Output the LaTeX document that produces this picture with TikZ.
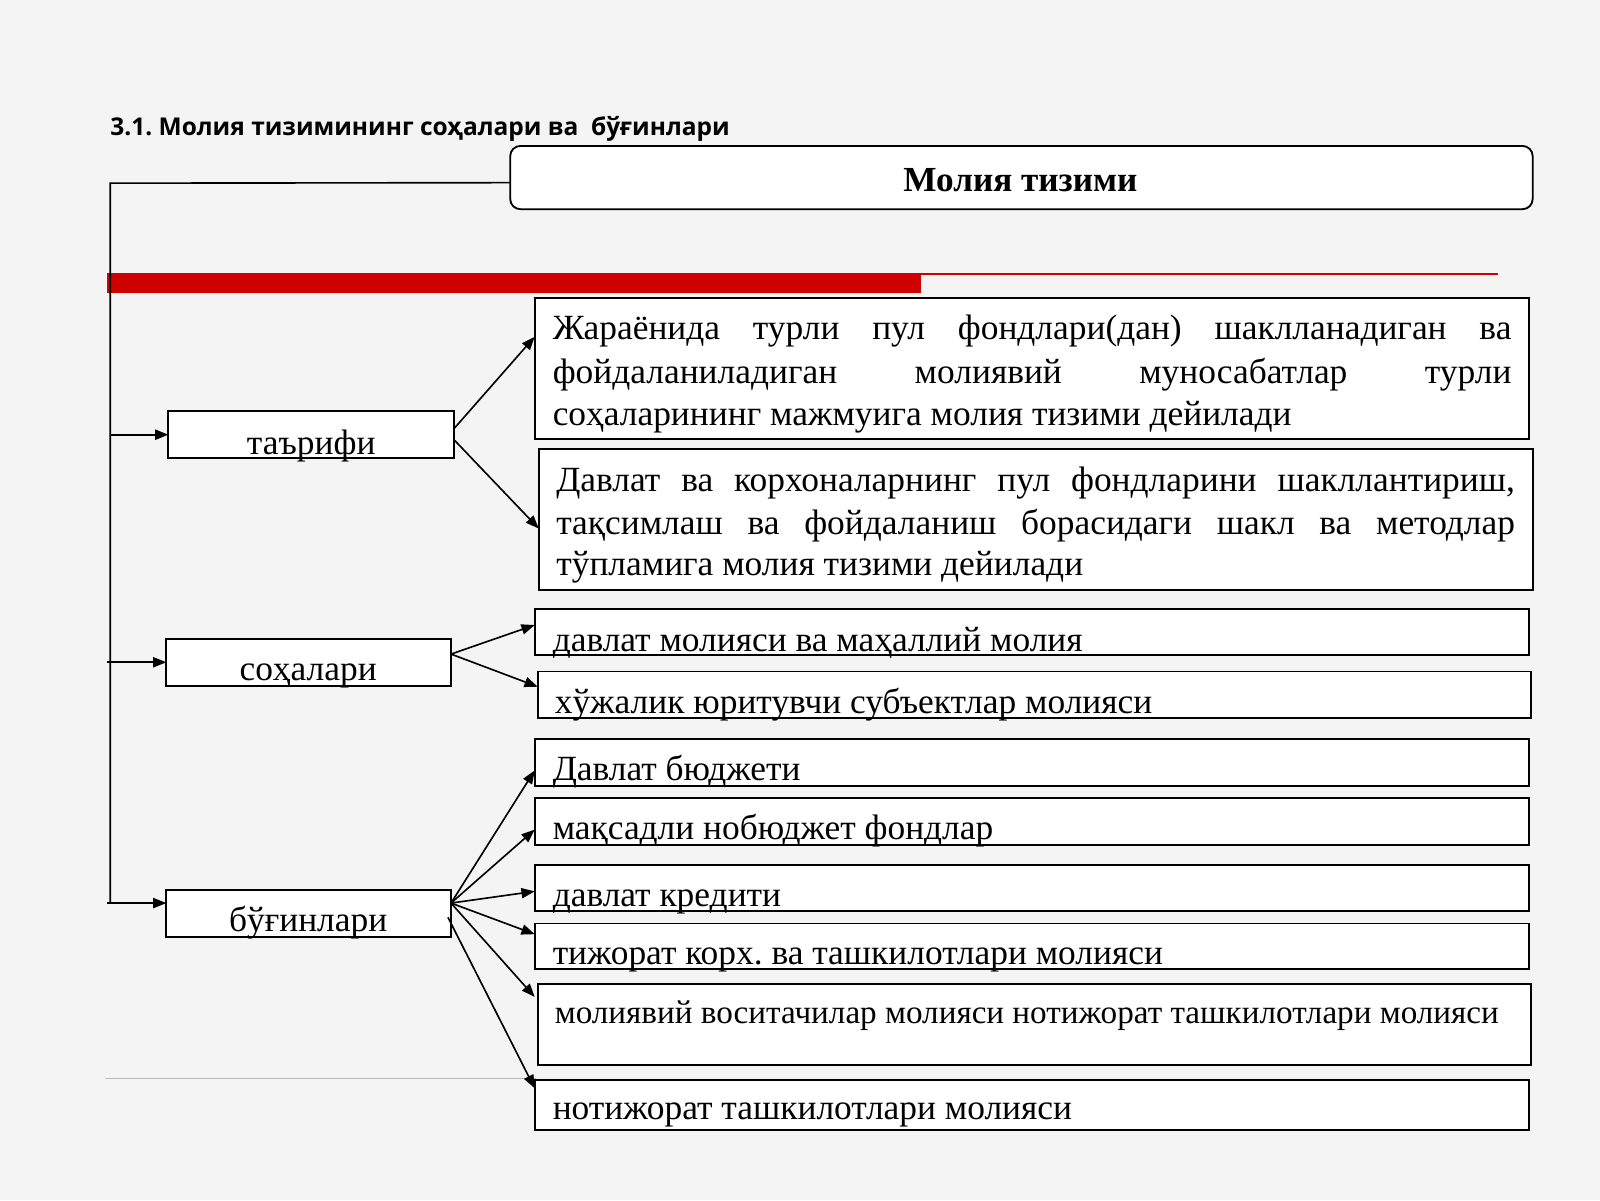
\documentclass[tikz,border=0pt]{standalone}
\usepackage{fontspec}
\setmainfont{Liberation Serif}
\newfontfamily\headfont{Open Sans}
\usetikzlibrary{arrows.meta}
\definecolor{pagebg}{RGB}{244,244,244}
\definecolor{barred}{RGB}{206,0,0}
\definecolor{sepgray}{RGB}{185,185,185}
\tikzset{
  boxnode/.style={draw=black, line width=1.8pt, fill=white, rectangle, inner sep=0pt, outer sep=0pt, anchor=north west},
  bodytext/.style={anchor=base west, inner sep=0pt, font=\fontsize{34.7}{42}\selectfont},
  centertext/.style={anchor=base, inner sep=0pt, font=\fontsize{34.7}{42}\selectfont},
  conn/.style={line width=1.6pt, draw=black},
  arrowconn/.style={conn, -{Triangle[length=13pt,width=10pt]}},
}
\frenchspacing
\begin{document}
\begin{tikzpicture}[x=1pt,y=-1pt]
\fill[pagebg] (0,0) rectangle (1568,1176);
\useasboundingbox (0,0) rectangle (1568,1176);

% heading
\node[anchor=base west, inner sep=0pt, font=\headfont\bfseries\fontsize{24}{28}\selectfont] (heading) at (108,133) {3.1. Молия тизимининг соҳалари ва\ \ бўғинлари};

% title box
\node[boxnode, rounded corners=10pt, minimum width=1002pt, minimum height=62pt] (ttop) at (500,143) {};
\node[anchor=base, inner sep=0pt, font=\bfseries\fontsize{34.5}{40}\selectfont] (ttl) at (1000,188) {Молия тизими};

% red bar
\fill[barred] (105,268) rectangle (903,287);
\draw[barred, line width=1.6pt] (903,268.8) -- (1468,268.8);

% separator
\draw[sepgray, line width=1.5pt] (103,1057) -- (525,1057);

% left boxes
\node[boxnode, minimum width=280pt, minimum height=46pt] (tar) at (165,403) {};
\node[boxnode, minimum width=279pt, minimum height=46pt] (soh) at (163,626) {};
\node[boxnode, minimum width=279pt, minimum height=46pt] (bug) at (163,872) {};
\node[centertext] (tartxt) at (305,445) {таърифи};
\node[centertext] (sohtxt) at (302,667) {соҳалари};
\node[centertext] (bugtxt) at (302,913) {бўғинлари};

% right boxes
\node[boxnode, minimum width=974pt, minimum height=138pt] (d1) at (524,292) {};
\node[boxnode, minimum width=974pt, minimum height=138pt] (d2) at (528,440) {};
\node[boxnode, minimum width=974pt, minimum height=45pt] (s1) at (524,597) {};
\node[boxnode, minimum width=973pt, minimum height=46pt] (s2) at (527,658) {};
\node[boxnode, minimum width=974pt, minimum height=46pt] (b1) at (524,724) {};
\node[boxnode, minimum width=974pt, minimum height=46pt] (b2) at (524,782) {};
\node[boxnode, minimum width=974pt, minimum height=45pt] (b3) at (524,848) {};
\node[boxnode, minimum width=974pt, minimum height=45pt] (b4) at (524,905) {};
\node[boxnode, minimum width=973pt, minimum height=80pt] (b5) at (527,964) {};
\node[boxnode, minimum width=974pt, minimum height=49pt] (b6) at (524,1058) {};

% texts of right boxes
\node[bodytext] (d1a) at (541.5,333) {\makebox[939.5pt][s]{Жараёнида турли пул фондлари(дан) шаклланадиган ва}};
\node[bodytext] (d1b) at (541.5,375.5) {\makebox[939.5pt][s]{фойдаланиладиган молиявий муносабатлар турли}};
\node[bodytext] (d1c) at (541.5,416.5) {соҳаларининг мажмуига молия тизими дейилади};
\node[bodytext] (d2a) at (545,482) {\makebox[939.5pt][s]{Давлат ва корхоналарнинг пул фондларини шакллантириш,}};
\node[bodytext] (d2b) at (545,524) {\makebox[939.5pt][s]{тақсимлаш ва фойдаланиш борасидаги шакл ва методлар}};
\node[bodytext] (d2c) at (545,563.5) {тўпламига молия тизими дейилади};
\node[bodytext] (s1t) at (541.5,638.5) {давлат молияси ва маҳаллий молия};
\node[bodytext] (s2t) at (543.5,699) {хўжалик юритувчи субъектлар молияси};
\node[bodytext] (b1t) at (541.5,765) {Давлат бюджети};
\node[bodytext] (b2t) at (541.5,822.5) {мақсадли нобюджет фондлар};
\node[bodytext] (b3t) at (541.5,888) {давлат кредити};
\node[bodytext] (b4t) at (541.5,945.5) {тижорат корх. ва ташкилотлари молияси};
\node[bodytext, font=\fontsize{32.5}{38}\selectfont] (b5t) at (543.5,1003) {молиявий воситачилар молияси нотижорат ташкилотлари молияси};
\node[bodytext] (b6t) at (541.5,1097.5) {нотижорат ташкилотлари молияси};

% trunk
\coordinate (trunkTop) at (108,179.5);
\coordinate (trunkBot) at (108,885);
\draw[conn] ([yshift=-5pt]ttop.west) -- (trunkTop) -- (trunkBot);

% branches to left boxes
\draw[arrowconn] (tar.west -| trunkTop) -- (tar.west);
\draw[arrowconn] ([xshift=-3pt]soh.west -| trunkTop) -- (soh.west);
\draw[arrowconn] ([xshift=-3pt]trunkBot) -- (bug.west |- trunkBot);

% from таърифи
\draw[arrowconn] ([yshift=6pt]tar.east) -- ([yshift=31pt]d1.west);
\draw[arrowconn] ([yshift=-5pt]tar.east) -- ([yshift=-9pt]d2.west);

% from соҳалари
\draw[arrowconn] ([yshift=8pt]soh.east) -- ([yshift=7pt]s1.west);
\draw[arrowconn] ([yshift=8pt]soh.east) -- ([yshift=8pt]s2.west);

% from бўғинлари
\draw[arrowconn] ([yshift=10pt]bug.east) -- ([yshift=-8pt]b1.west);
\draw[arrowconn] ([yshift=10pt]bug.east) -- ([yshift=-8pt]b2.west);
\draw[arrowconn] ([yshift=10pt]bug.east) -- ([yshift=-3pt]b3.west);
\draw[arrowconn] ([yshift=10pt]bug.east) -- ([yshift=12pt]b4.west);
\draw[arrowconn] ([yshift=10pt]bug.east) -- ([xshift=-3pt,yshift=27pt]b5.west);
\draw[arrowconn] ([xshift=-3pt,yshift=-4pt]bug.east) -- ([yshift=16pt]b6.west);
\end{tikzpicture}
\end{document}
